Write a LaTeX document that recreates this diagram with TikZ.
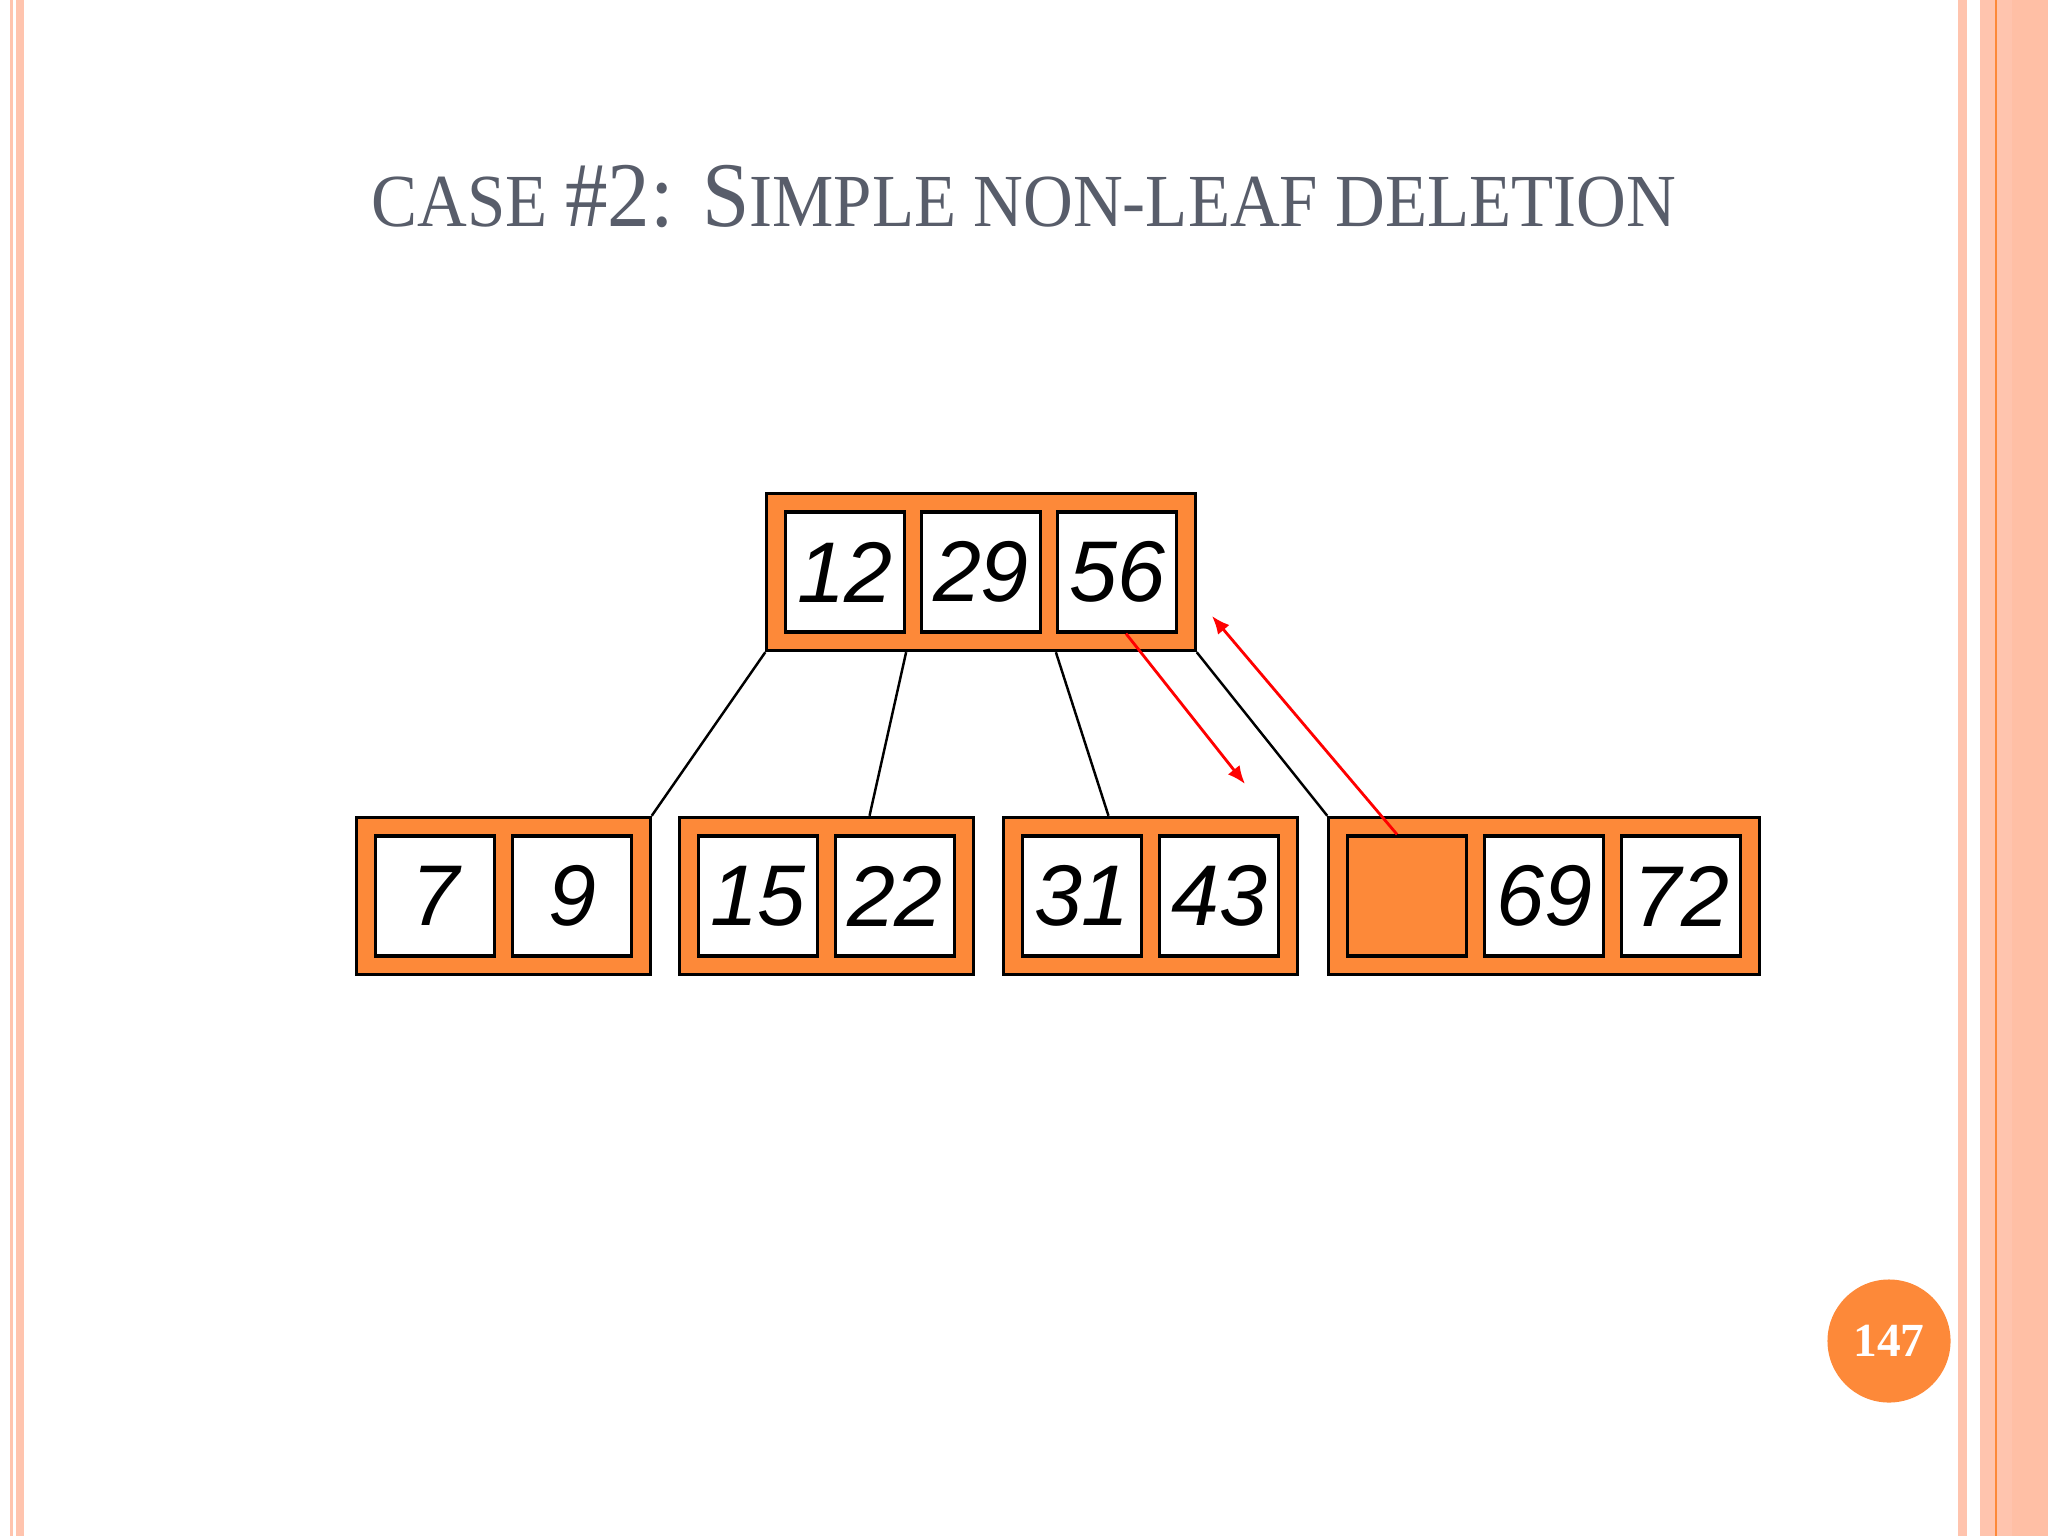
\documentclass[tikz,border=0pt]{standalone}
\usepackage{fontspec}
\setmainfont{Liberation Serif}
\newfontfamily\keyfont{Liberation Sans}
\usepackage{xcolor}
\usepackage{graphicx}
\usetikzlibrary{arrows.meta, positioning, fit, backgrounds}
\definecolor{nodeorange}{RGB}{253,137,57}
\definecolor{edgepink}{RGB}{255,196,174}
\definecolor{titlegray}{RGB}{88,93,106}
\newcommand{\capbig}[1]{{\fontsize{26.3}{30}\selectfont #1}}

\begin{document}
\begin{tikzpicture}[x=0.01cm, y=-0.01cm,
    cell/.style={rectangle, draw, line width=0.9pt, fill=white, minimum width=1.19cm, minimum height=1.2cm, inner sep=0pt, font=\keyfont\itshape\fontsize{24.5}{24}\selectfont},
    hole/.style={cell, fill=nodeorange},
    block/.style={rectangle, draw, line width=0.9pt, fill=nodeorange, inner sep=0.17cm},
    branch/.style={line width=0.7pt},
    arrow/.style={-{Latex[length=1.8mm,width=1.5mm]}, red, line width=0.8pt}
]
\useasboundingbox (0,0) rectangle (2048,1536);
% slide borders
\fill[edgepink] (10,0) rectangle (13,1536);
\fill[edgepink] (16,0) rectangle (24,1536);
\fill[edgepink] (1958,0) rectangle (1967,1536);
\fill[edgepink] (1980,0) rectangle (2048,1536);
\fill[edgepink!92!nodeorange] (2012,0) rectangle (2048,1536);
\draw[nodeorange, line width=0.6pt] (1996,0) -- (1996,1536);

% title
\node[anchor=base, text=titlegray, font=\fontsize{21.3}{24}\selectfont] (title) at (1024,226) {\scalebox{0.92}[1]{CASE \capbig{\#2: S}IMPLE NON-LEAF DELETION}};

% keys
\node[cell] (k12) at (845,572) {12};
\node[cell] (k29) at (981,572) {29};
\node[cell] (k56) at (1117,572) {56};

\node[cell] (k7) at (435,896) {7};
\node[cell] (k9) at (572,896) {9};
\node[cell] (k15) at (758,896) {15};
\node[cell] (k22) at (895,896) {22};
\node[cell] (k31) at (1082,896) {31};
\node[cell] (k43) at (1219,896) {43};
\node[hole] (kE) at (1407,896) {};
\node[cell] (k69) at (1544,896) {69};
\node[cell] (k72) at (1681,896) {72};

% blocks behind the keys
\begin{scope}[on background layer]
\node[block, fit=(k12)(k56)] (root) {};
\node[block, fit=(k7)(k9)] (leafA) {};
\node[block, fit=(k15)(k22)] (leafB) {};
\node[block, fit=(k31)(k43)] (leafC) {};
\node[block, fit=(kE)(k72)] (leafD) {};
\end{scope}

\draw[branch] (root.south west) -- (leafA.north east);
\draw[branch] (k12.east |- root.south) -- ([xshift=0.43cm]leafB.north);
\draw[branch] (k56.west |- root.south) -- ([xshift=-0.42cm]leafC.north);
\draw[branch] (root.south east) -- (leafD.north west);

% swap arrows
\coordinate (down) at (1245,784);
\coordinate (up) at (1212,616);
\draw[arrow] ([xshift=0.09cm]k56.south) -- (down);
\draw[arrow] ([xshift=-0.1cm]kE.north) -- (up);

% page number
\node[circle, fill=nodeorange, minimum size=1.23cm, text=white, font=\bfseries\fontsize{13.5}{13.5}\selectfont] (page) at (1889,1341) {147};
\end{tikzpicture}
\end{document}
